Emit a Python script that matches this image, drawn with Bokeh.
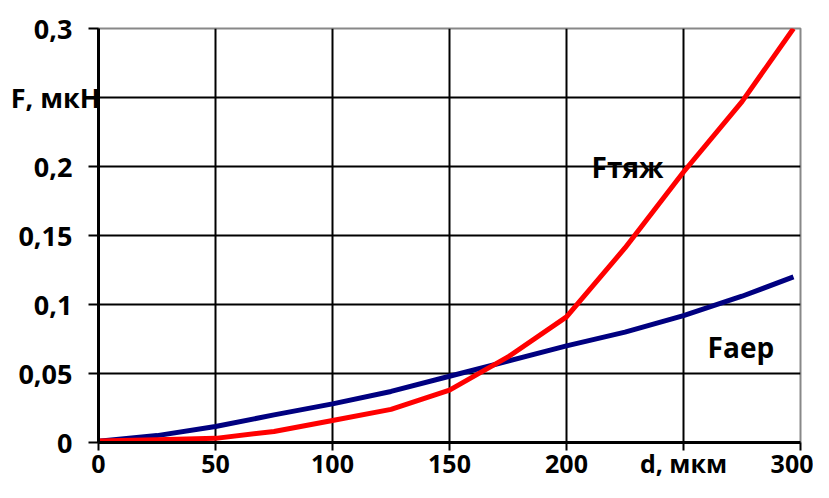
from bokeh.plotting import figure
from bokeh.models import Range1d, FixedTicker, Label
from bokeh.embed import file_html
from bokeh.resources import INLINE

d = [0, 25, 50, 75, 100, 125, 150, 175, 200, 225, 250, 275, 297]
f_aer = [0.001, 0.005, 0.0116, 0.020, 0.028, 0.037, 0.048, 0.059, 0.070, 0.080, 0.092, 0.106, 0.120]
f_tyazh = [0.001, 0.002, 0.003, 0.008, 0.016, 0.024, 0.038, 0.062, 0.091, 0.141, 0.196, 0.247, 0.300]

x_ticks = [0, 50, 100, 150, 200, 250, 300]
x_labels = ["0", "50", "100", "150", "200", "d, мкм", "300"]
y_ticks = [0, 0.05, 0.1, 0.15, 0.2, 0.25, 0.3]
y_labels = ["0", "0,05", "0,1", "0,15", "0,2", "F, мкН", "0,3"]

FONT = "Open Sans"
PAD = "\u00a0" * 4  # keeps the numeric labels clear of the axis

p = figure(width=813, height=482, output_backend="svg", toolbar_location=None,
           x_range=Range1d(0, 300), y_range=Range1d(0, 0.3),
           min_border_left=98, min_border_right=13, min_border_top=28, min_border_bottom=40)

p.outline_line_color = "#888888"
p.outline_line_width = 2

for ax in (p.xaxis[0], p.yaxis[0]):
    ax.axis_line_color = "black"
    ax.axis_line_width = 3
    ax.major_tick_line_color = "black"
    ax.major_tick_line_width = 2
    ax.major_tick_in = 0
    ax.minor_tick_line_color = None
    ax.major_label_text_font = FONT
    ax.major_label_text_font_style = "bold"
    ax.major_label_text_color = "black"

p.xaxis[0].ticker = FixedTicker(ticks=x_ticks)
p.yaxis[0].ticker = FixedTicker(ticks=y_ticks)
p.xaxis[0].major_label_overrides = {t: l for t, l in zip(x_ticks, x_labels)}
p.yaxis[0].major_label_overrides = {
    t: (l if l.startswith("F") else l + PAD) for t, l in zip(y_ticks, y_labels)}
p.xaxis[0].major_label_text_font_size = "25px"
p.yaxis[0].major_label_text_font_size = "27px"
p.xaxis[0].major_tick_out = 8
p.yaxis[0].major_tick_out = 10
p.xaxis[0].major_label_standoff = -5
p.yaxis[0].major_label_standoff = -12

for g in (p.xgrid[0], p.ygrid[0]):
    g.grid_line_color = "black"
    g.grid_line_width = 2
p.xgrid[0].ticker = FixedTicker(ticks=x_ticks)
p.ygrid[0].ticker = FixedTicker(ticks=y_ticks)

p.line(d, f_aer, line_color="#000080", line_width=5)
p.line(d, f_tyazh, line_color="#ff0000", line_width=5)

p.add_layout(Label(x=210.7, y=0.2, text="Fтяж", text_font=FONT, text_font_style="bold",
                   text_font_size="28px", text_color="black", text_baseline="alphabetic"))
p.add_layout(Label(x=260.3, y=0.069, text="Faep", text_font=FONT, text_font_style="bold",
                   text_font_size="28px", text_color="black", text_baseline="alphabetic"))

open("out.html", "w").write(file_html(p, INLINE))
